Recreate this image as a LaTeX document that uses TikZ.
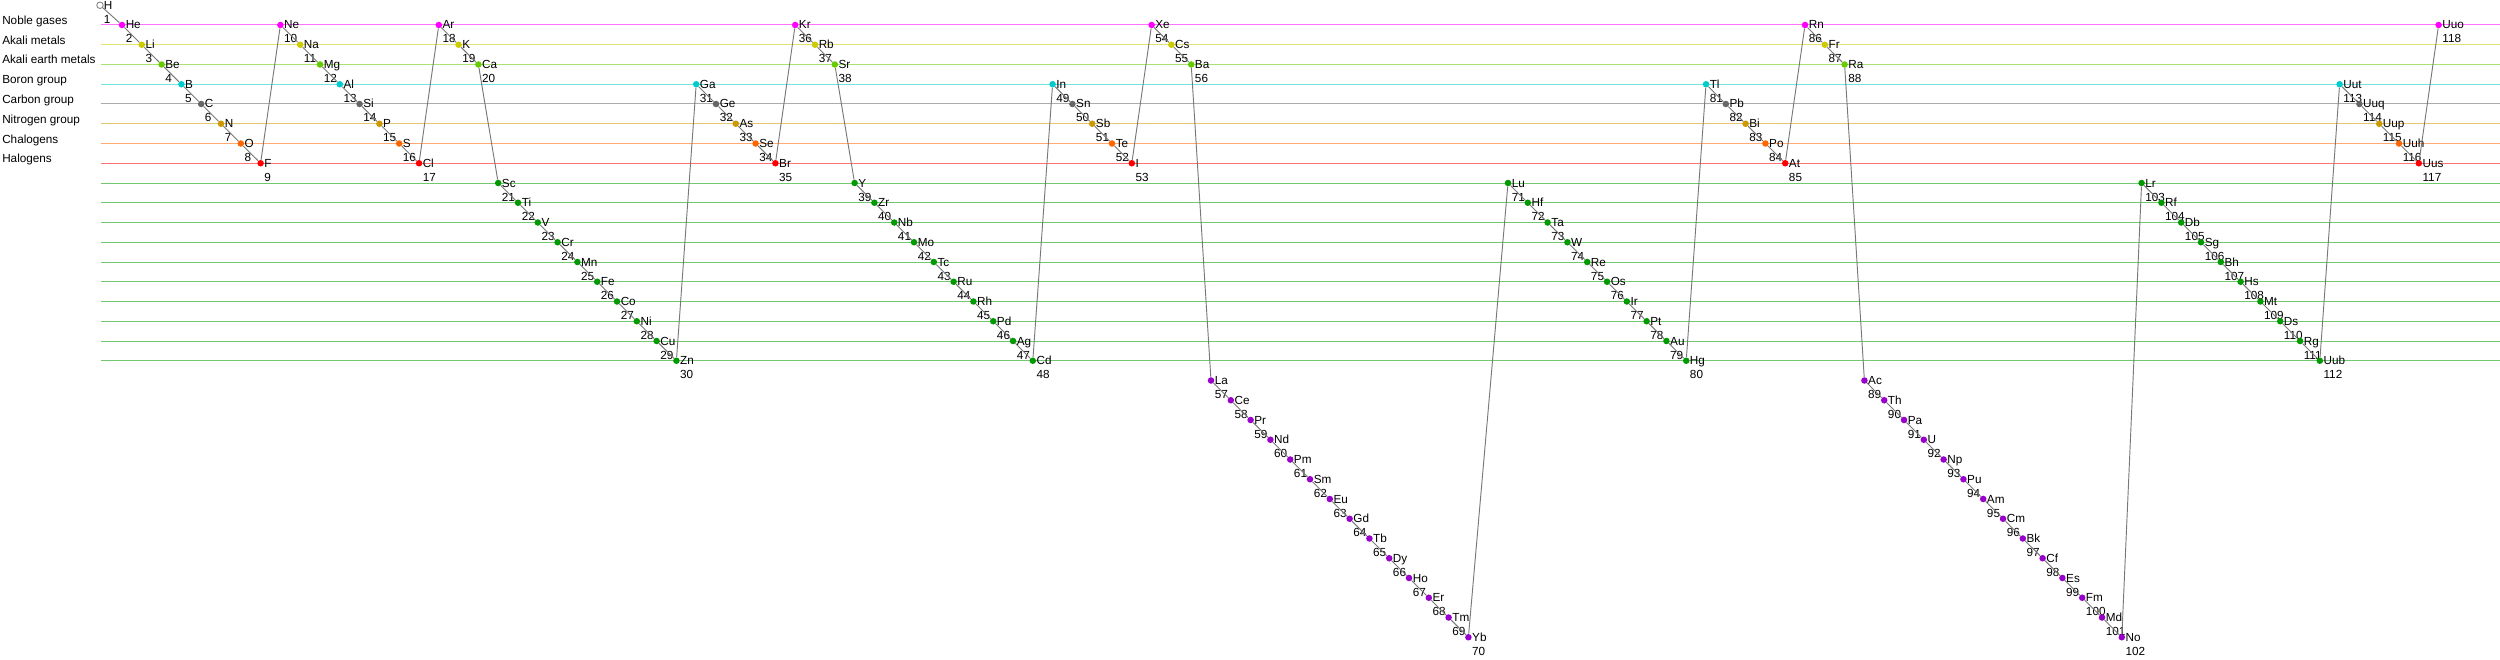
\documentclass[tikz,border=0pt]{standalone}
\usepackage{fontspec}
\setmainfont{Liberation Sans}
\usepackage{tikz}
\usetikzlibrary{positioning}
\definecolor{grp0}{RGB}{255, 0, 255}
\definecolor{grp1}{RGB}{204, 204, 0}
\definecolor{grp2}{RGB}{102, 204, 0}
\definecolor{grp3}{RGB}{0, 204, 204}
\definecolor{grp4}{RGB}{102, 102, 102}
\definecolor{grp5}{RGB}{204, 153, 0}
\definecolor{grp6}{RGB}{255, 102, 0}
\definecolor{grp7}{RGB}{255, 0, 0}
\definecolor{grp8}{RGB}{0, 153, 0}
\definecolor{grp10}{RGB}{153, 0, 204}
\definecolor{linkgray}{RGB}{120, 120, 120}

\begin{document}
\begin{tikzpicture}[
    x=0.75pt, y=-0.75pt,
    font=\fontsize{8.8}{10}\selectfont,
    elem/.style={circle, fill=#1, inner sep=0pt, minimum size=4.9pt},
    sym/.style={anchor=base west, inner sep=0pt},
    num/.style={anchor=base west, inner sep=0pt},
    grplabel/.style={anchor=base west, inner sep=0pt},
    rowline/.style={line width=0.75pt, draw=#1!55!white},
    link/.style={line width=0.7pt, draw=linkgray}
]
\useasboundingbox (0,0) rectangle (2500,660);

% Group rows
\foreach \r in {0,...,17} {
    \pgfmathtruncatemacro\g{\r<8 ? \r : 8}
    \draw[rowline=grp\g] (101, 25+\r*19.75) -- (2500, 25+\r*19.75);
}

% Group names
\foreach \txt [count=\r from 0] in {Noble gases, Akali metals, Akali earth metals, Boron group,
    Carbon group, Nitrogen group, Chalogens, Halogens}
    \node[grplabel] (g\r) at (2, 24.5+\r*19.75) {\txt};

% Hydrogen
\node[elem=white, draw=linkgray, line width=0.6pt] (e1) at (100, 5.25) {};
\node[sym] (s1) at ([shift={(3.5,4)}]e1.center) {H};
\node[num] (n1) at ([shift={(3.5,18)}]e1.center) {1};

% Elements: symbol/row
\foreach \sym/\row [count=\z from 2] in {
    He/0, Li/1, Be/2, B/3, C/4, N/5, O/6, F/7,
    Ne/0, Na/1, Mg/2, Al/3, Si/4, P/5, S/6, Cl/7,
    Ar/0, K/1, Ca/2, Sc/8, Ti/9, V/10, Cr/11, Mn/12, Fe/13, Co/14, Ni/15, Cu/16, Zn/17,
    Ga/3, Ge/4, As/5, Se/6, Br/7,
    Kr/0, Rb/1, Sr/2, Y/8, Zr/9, Nb/10, Mo/11, Tc/12, Ru/13, Rh/14, Pd/15, Ag/16, Cd/17,
    In/3, Sn/4, Sb/5, Te/6, I/7,
    Xe/0, Cs/1, Ba/2, La/18, Ce/19, Pr/20, Nd/21, Pm/22, Sm/23, Eu/24, Gd/25, Tb/26,
    Dy/27, Ho/28, Er/29, Tm/30, Yb/31,
    Lu/8, Hf/9, Ta/10, W/11, Re/12, Os/13, Ir/14, Pt/15, Au/16, Hg/17,
    Tl/3, Pb/4, Bi/5, Po/6, At/7,
    Rn/0, Fr/1, Ra/2, Ac/18, Th/19, Pa/20, U/21, Np/22, Pu/23, Am/24, Cm/25, Bk/26,
    Cf/27, Es/28, Fm/29, Md/30, No/31,
    Lr/8, Rf/9, Db/10, Sg/11, Bh/12, Hs/13, Mt/14, Ds/15, Rg/16, Uub/17,
    Uut/3, Uuq/4, Uup/5, Uuh/6, Uus/7, Uuo/0} {
    \pgfmathsetmacro\xx{122+(\z-2+(\z>70))*19.8}
    \pgfmathsetmacro\yy{25+\row*19.75}
    \pgfmathtruncatemacro\g{\row<8 ? \row : (\row<18 ? 8 : 10)}
    \node[elem=grp\g] (e\z) at (\xx,\yy) {};
    \node[sym] (s\z) at ([shift={(3.5,4)}]e\z.center) {\sym};
    \node[num] (n\z) at ([shift={(3.5,18)}]e\z.center) {\z};
}

% Links between neighbours
\foreach \z [remember=\z as \p (initially 1)] in {2,...,118}
    \draw[link] (e\p) -- (e\z);

\end{tikzpicture}
\end{document}
